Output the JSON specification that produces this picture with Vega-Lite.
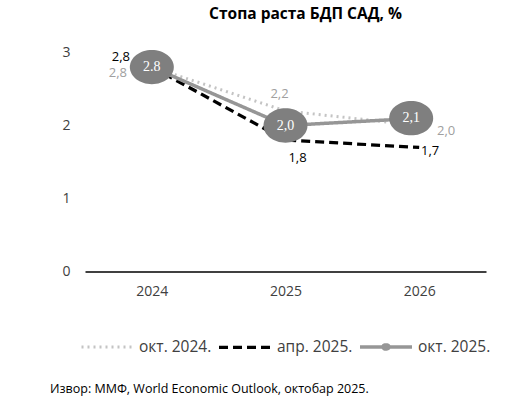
{
  "$schema": "https://vega.github.io/schema/vega-lite/v6.json",
  "autosize": {"type": "pad"},
  "padding": {"left": 50, "top": 6.5, "right": 5, "bottom": 5},
  "title": {"text": "Извор: ММФ, World Economic Outlook, октобар 2025.", "orient": "bottom", "anchor": "start", "font": "Open Sans", "fontSize": 12.5, "fontWeight": "normal", "color": "#000000", "offset": 26},
  "config": {
    "view": {"stroke": null},
    "font": "Open Sans",
    "legend": {"layout": {"bottom": {"anchor": "middle"}}}
  },
  "vconcat": [
    {
      "width": 401,
      "height": 219,
      "title": {"text": "Стопа раста БДП САД, %", "font": "Open Sans", "fontSize": 15.5, "fontWeight": "bold", "color": "#000000", "offset": 23, "dx": 20},
      "data": {"values": [
        {"year": "2024", "series": "окт. 2024.", "value": 2.8, "label": "2,8"},
        {"year": "2025", "series": "окт. 2024.", "value": 2.2, "label": "2,2"},
        {"year": "2026", "series": "окт. 2024.", "value": 2.0, "label": "2,0"},
        {"year": "2024", "series": "апр. 2025.", "value": 2.8, "label": "2,8"},
        {"year": "2025", "series": "апр. 2025.", "value": 1.8, "label": "1,8"},
        {"year": "2026", "series": "апр. 2025.", "value": 1.7, "label": "1,7"},
        {"year": "2024", "series": "окт. 2025.", "value": 2.8, "label": "2.8"},
        {"year": "2025", "series": "окт. 2025.", "value": 2.0, "label": "2,0"},
        {"year": "2026", "series": "окт. 2025.", "value": 2.1, "label": "2,1"}
      ]},
      "encoding": {
        "x": {"field": "year", "type": "nominal", "scale": {"type": "point", "padding": 0.5},
          "axis": {"title": null, "labelAngle": 0, "ticks": false, "grid": false, "domain": true, "domainColor": "#000000", "domainWidth": 1.5, "labelFont": "Open Sans", "labelFontSize": 14, "labelColor": "#404040", "labelPadding": 13}},
        "y": {"field": "value", "type": "quantitative", "scale": {"domain": [0, 3], "nice": false},
          "axis": {"title": null, "values": [0, 1, 2, 3], "ticks": false, "grid": false, "domain": false, "labelFont": "Open Sans", "labelFontSize": 14, "labelColor": "#404040", "labelPadding": 15, "minExtent": 35, "maxExtent": 35}}
      },
      "layer": [
        {
          "mark": {"type": "line"},
          "encoding": {
            "color": {"field": "series", "type": "nominal", "scale": {"domain": ["окт. 2024.", "апр. 2025.", "окт. 2025."], "range": ["#c4c4c4", "#000000", "#969696"]},
              "legend": {"title": null, "orient": "bottom", "direction": "horizontal", "symbolType": "stroke", "symbolSize": 2704, "labelFont": "Open Sans", "labelFontSize": 15.5, "labelColor": "#404040", "columnPadding": 0, "labelOffset": 4, "offset": 20,
                "encode": {"symbols": {"update": {
                  "shape": {"signal": "datum.value === 'окт. 2025.' ? 'M-1,0L1,0M-0.12,0C-0.12,-0.044,-0.066,-0.08,0,-0.08C0.066,-0.08,0.12,-0.044,0.12,0C0.12,0.044,0.066,0.08,0,0.08C-0.066,0.08,-0.12,0.044,-0.12,0Z' : 'stroke'"},
                  "fill": {"signal": "datum.value === 'окт. 2025.' ? '#7f7f7f' : 'transparent'"}
                }}}}},
            "strokeDash": {"field": "series", "type": "nominal", "scale": {"domain": ["окт. 2024.", "апр. 2025.", "окт. 2025."], "range": [[2, 4], [9, 5], [1, 0]]}, "legend": {"title": null}},
            "strokeWidth": {"field": "series", "type": "nominal", "scale": {"domain": ["окт. 2024.", "апр. 2025.", "окт. 2025."], "range": [3, 3.5, 5]}, "legend": {"title": null}},
            "order": {"field": "year"}
          }
        },
        {
          "transform": [{"filter": "datum.series === 'окт. 2025.' && datum.year !== '2026'"}],
          "mark": {"type": "point", "filled": true, "opacity": 1, "color": "#7f7f7f", "size": 1936,
            "shape": "M-1,0C-1,-0.431,-0.5523,-0.78,0,-0.78C0.5523,-0.78,1,-0.431,1,0C1,0.431,0.5523,0.78,0,0.78C-0.5523,0.78,-1,0.431,-1,0Z"}
        },
        {
          "transform": [{"filter": "datum.series === 'окт. 2025.' && datum.year === '2026'"}],
          "mark": {"type": "point", "filled": true, "opacity": 1, "color": "#7f7f7f", "size": 1936, "xOffset": -8,
            "shape": "M-1,0C-1,-0.431,-0.5523,-0.78,0,-0.78C0.5523,-0.78,1,-0.431,1,0C1,0.431,0.5523,0.78,0,0.78C-0.5523,0.78,-1,0.431,-1,0Z"}
        },
        {
          "transform": [{"filter": "datum.series === 'окт. 2025.' && datum.year !== '2026'"}],
          "mark": {"type": "text", "font": "Liberation Serif", "fontSize": 14, "color": "#ffffff", "align": "center", "baseline": "middle"},
          "encoding": {"text": {"field": "label"}}
        },
        {
          "transform": [{"filter": "datum.series === 'окт. 2025.' && datum.year === '2026'"}],
          "mark": {"type": "text", "font": "Liberation Serif", "fontSize": 14, "color": "#ffffff", "align": "center", "baseline": "middle", "dx": -8},
          "encoding": {"text": {"field": "label"}}
        },
        {
          "transform": [{"filter": "datum.series === 'апр. 2025.' && datum.year === '2024'"}],
          "mark": {"type": "text", "font": "Open Sans", "fontSize": 13, "color": "#000000", "align": "center", "baseline": "middle", "dx": -31, "dy": -10},
          "encoding": {"text": {"field": "label"}}
        },
        {
          "transform": [{"filter": "datum.series === 'апр. 2025.' && datum.year === '2025'"}],
          "mark": {"type": "text", "font": "Open Sans", "fontSize": 13, "color": "#000000", "align": "center", "baseline": "middle", "dx": 12, "dy": 18},
          "encoding": {"text": {"field": "label"}}
        },
        {
          "transform": [{"filter": "datum.series === 'апр. 2025.' && datum.year === '2026'"}],
          "mark": {"type": "text", "font": "Open Sans", "fontSize": 13, "color": "#000000", "align": "center", "baseline": "middle", "dx": 11, "dy": 4},
          "encoding": {"text": {"field": "label"}}
        },
        {
          "transform": [{"filter": "datum.series === 'окт. 2024.' && datum.year === '2024'"}],
          "mark": {"type": "text", "font": "Open Sans", "fontSize": 13, "color": "#a0a0a0", "align": "center", "baseline": "middle", "dx": -34, "dy": 6},
          "encoding": {"text": {"field": "label"}}
        },
        {
          "transform": [{"filter": "datum.series === 'окт. 2024.' && datum.year === '2025'"}],
          "mark": {"type": "text", "font": "Open Sans", "fontSize": 13, "color": "#a0a0a0", "align": "center", "baseline": "middle", "dx": -6, "dy": -17},
          "encoding": {"text": {"field": "label"}}
        },
        {
          "transform": [{"filter": "datum.series === 'окт. 2024.' && datum.year === '2026'"}],
          "mark": {"type": "text", "font": "Open Sans", "fontSize": 13, "color": "#a0a0a0", "align": "center", "baseline": "middle", "dx": 27, "dy": 5},
          "encoding": {"text": {"field": "label"}}
        }
      ]
    }
  ]
}
